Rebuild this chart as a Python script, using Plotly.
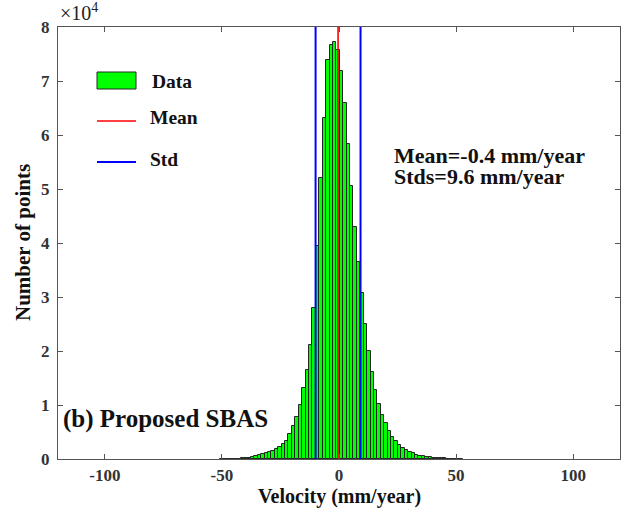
import plotly.graph_objects as go

# ---- data ----
MEAN = -0.4
STD = 9.6
BIN_WIDTH = 1.46
FIRST_BIN = -34          # index (relative to the bin centred on the mean) of the first bin
counts = [
    20, 30, 40, 50,                                  # k = -34 .. -31
    60, 90, 130, 180,                                # k = -30 .. -27
    250, 370, 500, 685, 870, 1055, 1240, 1480, 1800, 2170,
    2720, 3390, 4630, 6170, 7830, 10060, 13200, 16480, 21110, 27910,
    39440, 51980, 63200, 73890, 76670, 77170,        # k = -6 .. -1
    75740,                                           # k = 0
    71910, 65870, 58280, 50560, 42910, 36430, 30690, 24940, 20060, 16060,
    12780, 10190, 8090, 6610, 5240, 4130, 3330, 2590, 1980, 1610,
    1300, 1060, 800, 610, 500, 370, 310, 240, 190,   # k = 21 .. 29
    150, 110, 80, 60, 40, 30, 20,                    # k = 30 .. 36
]
centers = [MEAN + BIN_WIDTH * (FIRST_BIN + i) for i in range(len(counts))]

x_ticks = [-100, -50, 0, 50, 100]
x_ticktext = ["-100", "-50", "0", "50", "100"]
y_ticks = [0, 10000, 20000, 30000, 40000, 50000, 60000, 70000, 80000]
y_ticktext = ["0", "1", "2", "3", "4", "5", "6", "7", "8"]
X_RANGE = [-120, 120]
Y_RANGE = [0, 80000]

FONT = "Liberation Serif"
INK = "#111111"
TICK_FONT = dict(family=FONT, size=17, color="#333333")

# plot-area pixel geometry
L, R, T, B = 58, 1, 27, 53
W, H = 621, 512
PW, PH = W - L - R, H - T - B


def px(xp):
    return (xp - L) / PW


def py(yp):
    return (H - B - yp) / PH


fig = go.Figure()
fig.add_trace(go.Bar(
    x=centers, y=counts, width=BIN_WIDTH,
    marker=dict(color="#00ff00", line=dict(color="#262626", width=1)),
    showlegend=False,
))
fig.add_trace(go.Scatter(
    x=[MEAN, MEAN], y=Y_RANGE, mode="lines",
    line=dict(color="#ff0000", width=1.6), showlegend=False,
))
for s in (MEAN - STD, MEAN + STD):
    fig.add_trace(go.Scatter(
        x=[s, s], y=Y_RANGE, mode="lines",
        line=dict(color="#0000ff", width=2), showlegend=False,
    ))

axis_common = dict(
    showline=True, linecolor="#555555", linewidth=1, mirror="ticks",
    ticks="inside", ticklen=5, tickcolor="#555555", tickwidth=1,
    showgrid=False, zeroline=False, tickfont=TICK_FONT,
)

fig.update_layout(
    width=W, height=H,
    margin=dict(l=L, r=R, t=T, b=B, pad=0),
    plot_bgcolor="white", paper_bgcolor="white",
    bargap=0,
    xaxis=dict(range=X_RANGE, tickvals=x_ticks,
               ticktext=[f"<b>{t}</b>" for t in x_ticktext],
               ticklabelstandoff=1, **axis_common),
    yaxis=dict(range=Y_RANGE, tickvals=y_ticks,
               ticktext=[f"<b>{t}</b>" for t in y_ticktext],
               ticklabelstandoff=4, **axis_common),
    font=dict(family=FONT),
)

annotations = [
    dict(text="<b>Velocity (mm/year)</b>", xref="paper", yref="paper", x=px(339), y=py(496),
         xanchor="center", yanchor="middle", showarrow=False,
         font=dict(family=FONT, size=20, color=INK)),
    dict(text="<b>Number of points</b>", xref="paper", yref="paper", x=px(23), y=py(243),
         xanchor="center", yanchor="middle", textangle=-90, showarrow=False,
         font=dict(family=FONT, size=21, color=INK)),
    dict(text="×10<sup>4</sup>", xref="paper", yref="paper", x=px(58), y=py(26),
         xanchor="left", yanchor="bottom", showarrow=False,
         font=dict(family=FONT, size=20, color="#222222")),
    dict(text="<b>Mean=-0.4 mm/year</b>", xref="paper", yref="paper",
         x=px(392), y=py(155), xanchor="left", yanchor="middle", showarrow=False,
         font=dict(family=FONT, size=22, color=INK)),
    dict(text="<b>Stds=9.6 mm/year</b>", xref="paper", yref="paper",
         x=px(392), y=py(176), xanchor="left", yanchor="middle", showarrow=False,
         font=dict(family=FONT, size=22, color=INK)),
    dict(text="<b>(b) Proposed SBAS</b>", xref="paper", yref="paper",
         x=px(61), y=py(419), xanchor="left", yanchor="middle",
         showarrow=False, font=dict(family=FONT, size=25, color=INK)),
]

# manual legend
shapes = [
    dict(type="rect", xref="paper", yref="paper", x0=px(97), x1=px(136), y0=py(89), y1=py(72),
         fillcolor="#00ff00", line=dict(color="#262626", width=1)),
    dict(type="line", xref="paper", yref="paper", x0=px(97), x1=px(136), y0=py(121), y1=py(121),
         line=dict(color="#ff0000", width=1.6)),
    dict(type="line", xref="paper", yref="paper", x0=px(97), x1=px(136), y0=py(162), y1=py(162),
         line=dict(color="#0000ff", width=2)),
]
for label, yp, xp in (("Data", 82, 150), ("Mean", 117, 148), ("Std", 159, 148)):
    annotations.append(dict(text=f"<b>{label}</b>", xref="paper", yref="paper",
                            x=px(xp), y=py(yp), xanchor="left", yanchor="middle",
                            showarrow=False, font=dict(family=FONT, size=19.5, color=INK)))

fig.update_layout(annotations=annotations, shapes=shapes)
fig.write_html(
    "out.html",
    config={"displayModeBar": False},
    post_script="document.body.style.margin='0';document.body.style.overflow='hidden';",
)
